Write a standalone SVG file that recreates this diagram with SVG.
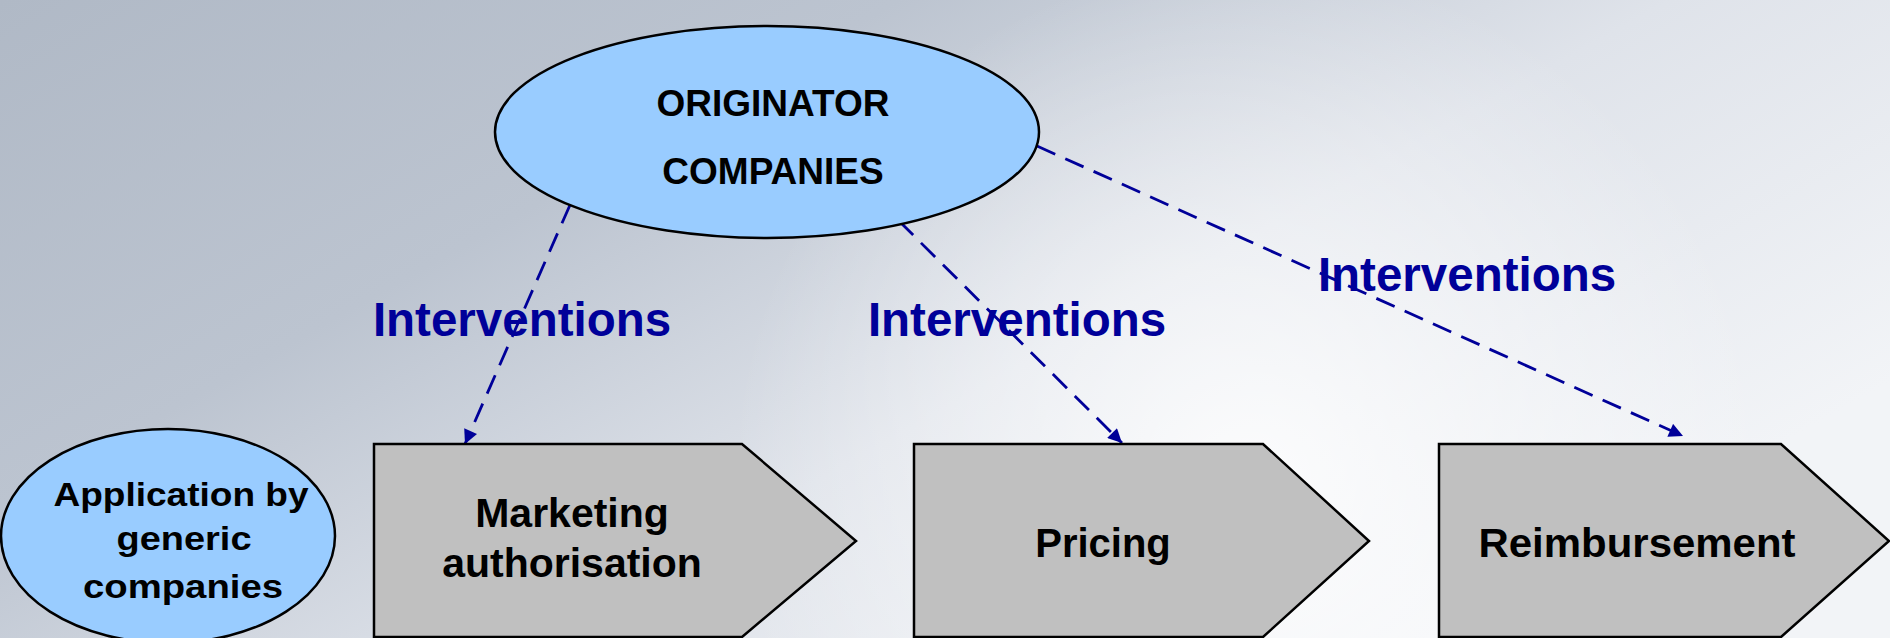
<svg xmlns="http://www.w3.org/2000/svg" width="1890" height="638" viewBox="0 0 1890 638">
<style>
.ell{fill:#99CCFF;stroke:#000;stroke-width:2.5}
.pent{fill:#C0C0C0;stroke:#000;stroke-width:2.5}
.t{font-family:"Liberation Sans",Arial,sans-serif;font-weight:bold;fill:#000;text-anchor:middle}
.lbl{font-family:"Liberation Sans",Arial,sans-serif;font-weight:bold;fill:#000099;font-size:47.5px;text-anchor:middle}
.con{fill:none;stroke:#000099;stroke-width:2.8;stroke-dasharray:20 11}
</style>
<defs>
<linearGradient id="bg" x1="0" y1="0" x2="1" y2="0.6">
<stop offset="0" stop-color="#b0b9c6"/>
<stop offset="0.35" stop-color="#bcc4d0"/>
<stop offset="0.65" stop-color="#dfe3ea"/>
<stop offset="1" stop-color="#f2f4f7"/>
</linearGradient>
<radialGradient id="glow" cx="1250" cy="480" r="520" gradientUnits="userSpaceOnUse">
<stop offset="0" stop-color="#ffffff" stop-opacity="0.85"/>
<stop offset="1" stop-color="#ffffff" stop-opacity="0"/>
</radialGradient>
<marker id="ah" viewBox="0 0 10 10" refX="10" refY="5" markerWidth="17" markerHeight="14" markerUnits="userSpaceOnUse" orient="auto">
<path d="M0,0 L10,5 L0,10 z" fill="#000099"/>
</marker>
</defs>
<rect width="1890" height="638" fill="url(#bg)"/>
<rect width="1890" height="638" fill="url(#glow)"/>
<g id="connectors">
<line class="con" x1="570" y1="205" x2="465" y2="444" marker-end="url(#ah)"/>
<line class="con" x1="899" y1="221" x2="1122" y2="443" marker-end="url(#ah)"/>
<line class="con" x1="1037" y1="146" x2="1683" y2="436" marker-end="url(#ah)"/>
</g>
<g id="label-interventions-1"><text class="lbl" x="522" y="336">Interventions</text></g>
<g id="label-interventions-2"><text class="lbl" x="1017" y="336">Interventions</text></g>
<g id="label-interventions-3"><text class="lbl" x="1467" y="291">Interventions</text></g>
<g id="originator">
<ellipse class="ell" cx="767" cy="132" rx="272" ry="106"/>
<text class="t" x="773" y="116" font-size="37">ORIGINATOR</text>
<text class="t" x="773" y="184" font-size="37">COMPANIES</text>
</g>
<g id="generic">
<ellipse class="ell" cx="168" cy="536" rx="167" ry="107"/>
<text class="t" x="181" y="506" font-size="33" textLength="255" lengthAdjust="spacingAndGlyphs">Application by</text>
<text class="t" x="184" y="550" font-size="33" textLength="135" lengthAdjust="spacingAndGlyphs">generic</text>
<text class="t" x="183" y="598" font-size="33" textLength="200" lengthAdjust="spacingAndGlyphs">companies</text>
</g>
<g id="marketing">
<polygon class="pent" points="374,444 742,444 856,541 742,637 374,637"/>
<text class="t" x="572" y="527" font-size="41">Marketing</text>
<text class="t" x="572" y="577" font-size="41">authorisation</text>
</g>
<g id="pricing">
<polygon class="pent" points="914,444 1263,444 1369,541 1263,637 914,637"/>
<text class="t" x="1103" y="557" font-size="40">Pricing</text>
</g>
<g id="reimbursement">
<polygon class="pent" points="1439,444 1781,444 1889,541 1781,637 1439,637"/>
<text class="t" x="1637" y="557" font-size="41" textLength="317" lengthAdjust="spacingAndGlyphs">Reimbursement</text>
</g>
</svg>
